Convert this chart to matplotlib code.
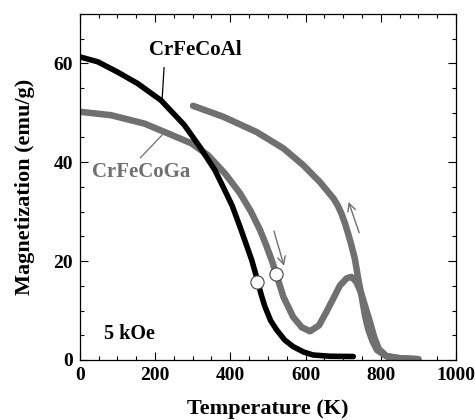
import matplotlib
matplotlib.use("Agg")
import matplotlib.pyplot as plt
from matplotlib.ticker import MultipleLocator

# CrFeCoAl (black)
al_T = [0, 48, 101, 154, 216, 278, 319, 359, 381, 405, 426, 445, 457, 466, 474, 483, 492, 507, 523, 545, 567, 595, 620, 665, 727]
al_M = [61.3, 60.3, 58.2, 55.9, 52.5, 47.5, 43.1, 38.4, 35.0, 31.2, 26.9, 22.8, 20.2, 17.8, 15.5, 13.0, 10.8, 8.0, 6.1, 4.0, 2.7, 1.6, 1.0, 0.75, 0.7]

# CrFeCoGa warming
gw_T = [0, 83, 172, 235, 297, 341, 386, 426, 455, 479, 495, 510, 523, 541, 567, 590, 612, 636, 656, 673, 691, 709, 722, 735, 748, 760, 772, 783, 795, 815, 850, 900]
gw_M = [50.2, 49.5, 47.8, 45.8, 43.8, 41.4, 37.7, 33.7, 30.0, 26.3, 23.3, 20.2, 17.2, 12.8, 8.7, 6.6, 5.8, 7.0, 9.8, 12.3, 15.0, 16.5, 16.8, 15.8, 13.5, 10.5, 7.5, 4.5, 2.2, 0.8, 0.35, 0.15]

# CrFeCoGa cooling
gc_T = [900, 850, 816, 790, 778, 767, 758, 750, 740, 731, 722, 713, 705, 696, 686, 674, 638, 594, 541, 470, 381, 301]
gc_M = [0.15, 0.35, 0.7, 2.0, 3.8, 6.1, 9.0, 12.5, 16.5, 20.5, 23.2, 25.6, 27.6, 29.5, 31.2, 32.7, 36.0, 39.4, 42.8, 46.1, 49.2, 51.4]

circ_T = [472, 521]
circ_M = [15.8, 17.3]

fig = plt.figure(figsize=(4.75, 4.2), dpi=100)
ax = fig.add_axes([0.168, 0.143, 0.792, 0.824])

gray = "#707070"
ax.plot(gc_T, gc_M, color=gray, lw=4.7, solid_capstyle="round", solid_joinstyle="round", zorder=2)
ax.plot(gw_T, gw_M, color=gray, lw=4.7, solid_capstyle="round", solid_joinstyle="round", zorder=2)
ax.plot(al_T, al_M, color="black", lw=4.0, solid_capstyle="round", solid_joinstyle="round", zorder=3)
ax.plot(circ_T, circ_M, "o", ms=9.5, mfc="white", mec="#444444", mew=0.8, zorder=5)

# arrows
ax.annotate("", xy=(545, 18.5), xytext=(514, 26.6),
            arrowprops=dict(arrowstyle="->", color=gray, lw=1.0, mutation_scale=14))
ax.annotate("", xy=(712, 32.5), xytext=(745, 25.2),
            arrowprops=dict(arrowstyle="->", color=gray, lw=1.0, mutation_scale=14))

# labels
font = ["Liberation Serif", "DejaVu Serif"]
ax.text(306, 62.6, "CrFeCoAl", family=font, fontweight="bold", fontsize=15, ha="center", va="center")
ax.plot([224, 219], [59.1, 52.9], color="black", lw=0.9)
ax.text(164, 38.0, "CrFeCoGa", family=font, fontweight="bold", fontsize=15, ha="center", va="center", color=gray)
ax.plot([161, 219], [40.9, 45.5], color=gray, lw=0.9)
ax.text(131, 5.2, "5 kOe", family=font, fontweight="bold", fontsize=14.5, ha="center", va="center")

ax.set_xlim(0, 1000)
ax.set_ylim(0, 70)
ax.xaxis.set_major_locator(MultipleLocator(200))
ax.xaxis.set_minor_locator(MultipleLocator(50))
ax.yaxis.set_major_locator(MultipleLocator(20))
ax.yaxis.set_minor_locator(MultipleLocator(5))
ax.tick_params(which="both", direction="in", top=True, right=True, width=0.8)
ax.tick_params(which="major", length=6, labelsize=14, pad=5)
ax.tick_params(which="minor", length=3)
for lab in ax.get_xticklabels() + ax.get_yticklabels():
    lab.set_family(font)
    lab.set_fontweight("bold")
for s in ax.spines.values():
    s.set_linewidth(0.9)

ax.set_xlabel("Temperature (K)", family=font, fontweight="bold", fontsize=16, labelpad=11)
ax.set_ylabel("Magnetization (emu/g)", family=font, fontweight="bold", fontsize=16)
ax.yaxis.set_label_coords(-0.118, 0.5)

fig.savefig("out.png", dpi=100)
